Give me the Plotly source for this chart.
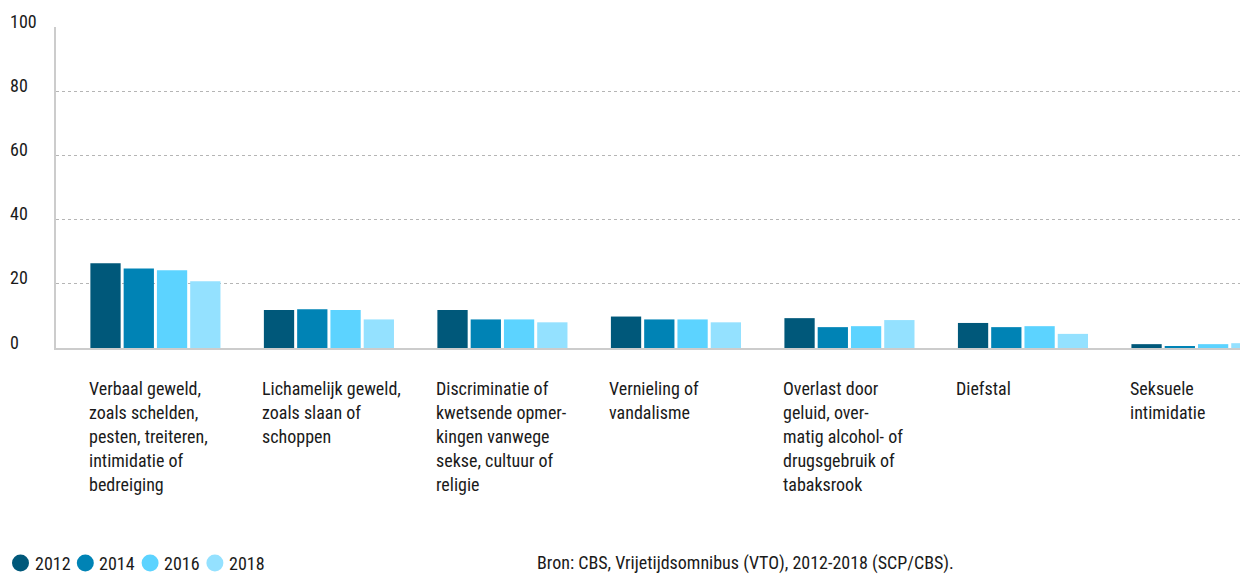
import plotly.graph_objects as go

categories = [
    ["Verbaal geweld,", "zoals schelden,", "pesten, treiteren,", "intimidatie of", "bedreiging"],
    ["Lichamelijk geweld,", "zoals slaan of", "schoppen"],
    ["Discriminatie of", "kwetsende opmer-", "kingen vanwege", "sekse, cultuur of", "religie"],
    ["Vernieling of", "vandalisme"],
    ["Overlast door", "geluid, over-", "matig alcohol- of", "drugsgebruik of", "tabaksrook"],
    ["Diefstal"],
    ["Seksuele", "intimidatie"],
]
years = ["2012", "2014", "2016", "2018"]
colors = ["#00587a", "#0083b5", "#5cd3ff", "#94e1ff"]
values = {
    "2012": [26.4, 11.8, 11.8, 9.8, 9.3, 7.8, 1.2],
    "2014": [24.8, 12.1, 8.9, 8.9, 6.5, 6.5, 0.6],
    "2016": [24.2, 11.8, 8.9, 8.9, 6.8, 6.8, 1.2],
    "2018": [20.8, 8.9, 8.0, 8.0, 8.7, 4.4, 1.5],
}
y_ticks = [0, 20, 40, 60, 80, 100]
source = "Bron: CBS, Vrijetijdsomnibus (VTO), 2012-2018 (SCP/CBS)."

FONT = "Liberation Sans Narrow, Roboto Condensed, Roboto, sans-serif"
FS = 18
TXT = "#1a1a1a"
# page body has an 8px margin: figure is 8px smaller and offset by 8px
OFF = 8
W, H = 1248 - OFF, 574 - OFF
ML, MR, MT, MB = 56 - OFF, 0, 27 - OFF, 226
PW, PH = W - ML - MR, H - MT - MB


def px(xref_px):
    """x pixel in reference image -> paper coordinate"""
    return (xref_px - 56) / PW


x = list(range(len(categories)))

fig = go.Figure()
for yr, col in zip(years, colors):
    fig.add_trace(go.Bar(x=x, y=values[yr], name=yr, marker=dict(color=col, line=dict(width=0)),
                         showlegend=False, hoverinfo="y"))

annotations = []
shapes = []
group_frac = 0.767
for i, lines in enumerate(categories):
    for j, line in enumerate(lines):
        annotations.append(dict(
            x=i - group_frac / 2, xref="x", xanchor="left", xshift=-2,
            y=0, yref="y", yanchor="middle", yshift=-40 - 24 * j,
            text=line, showarrow=False, align="left",
            font=dict(family=FONT, size=FS, color=TXT)))
for t in y_ticks:
    annotations.append(dict(
        x=px(8), xref="paper", xanchor="left", y=t, yref="y", yanchor="middle",
        yshift=6, text=str(t), showarrow=False,
        font=dict(family=FONT, size=FS, color=TXT)))
annotations.append(dict(
    x=px(535), xref="paper", xanchor="left", y=0, yref="y", yanchor="middle", yshift=-215,
    text=source, showarrow=False, font=dict(family=FONT, size=FS, color=TXT)))

# legend drawn as circles + labels
leg_y = -215 / PH
for k, (yr, col) in enumerate(zip(years, colors)):
    cx = 20.5 + 64.8 * k
    shapes.append(dict(type="circle", xref="paper", yref="paper",
                       xsizemode="pixel", ysizemode="pixel",
                       xanchor=px(cx), yanchor=leg_y,
                       x0=-8.5, x1=8.5, y0=-8.5, y1=8.5,
                       fillcolor=col, line=dict(width=0)))
    annotations.append(dict(
        x=px(cx + 12), xref="paper", xanchor="left", y=leg_y, yref="paper",
        yanchor="middle", text=yr, showarrow=False,
        font=dict(family=FONT, size=FS, color=TXT)))

fig.update_layout(
    width=W, height=H,
    margin=dict(l=ML, r=MR, t=MT, b=MB, autoexpand=False),
    paper_bgcolor="white", plot_bgcolor="white",
    barmode="group", bargap=0.233, bargroupgap=0.09,
    showlegend=False,
    font=dict(family=FONT, size=FS, color=TXT),
    xaxis=dict(range=[-0.573, 6.297], showticklabels=False, showgrid=False, zeroline=False,
               showline=True, linecolor="#cccccc", linewidth=2, ticks=""),
    yaxis=dict(range=[0, 100], tickvals=y_ticks, showticklabels=False, showgrid=True,
               gridcolor="#b5b5b5", griddash="dot", gridwidth=1, zeroline=False,
               showline=True, linecolor="#cccccc", linewidth=2, ticks=""),
    annotations=annotations,
    shapes=shapes,
)

fig.write_html("out.html")
